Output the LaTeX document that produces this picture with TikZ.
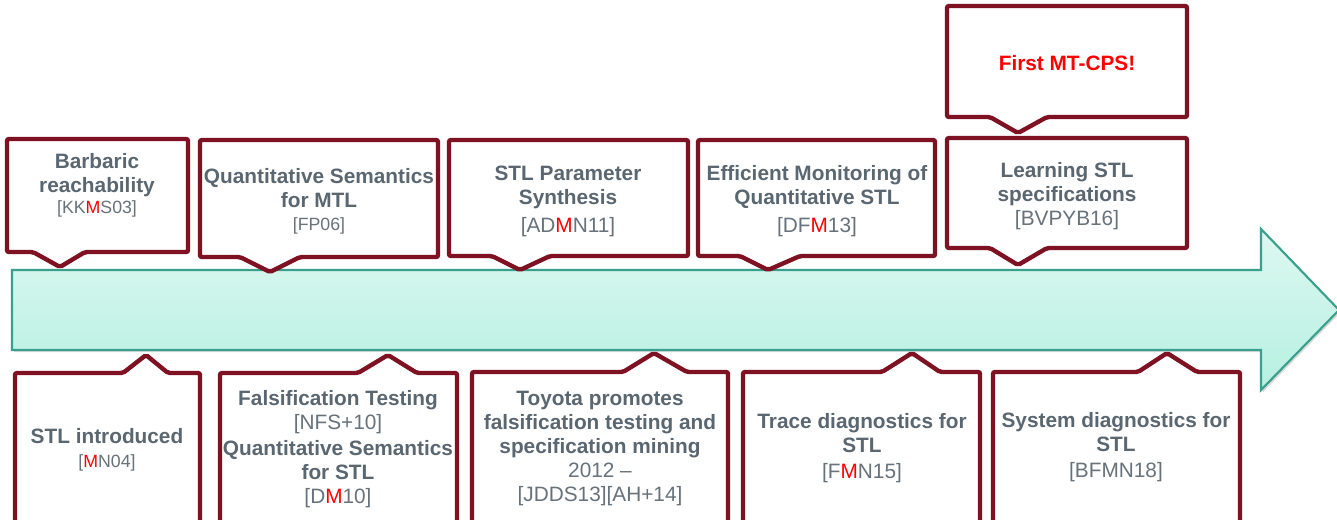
\documentclass[tikz,border=0pt]{standalone}
\usepackage{fontspec}
\setmainfont{Liberation Sans}
\usetikzlibrary{shadows}

\definecolor{frame}{HTML}{7E1222}
\definecolor{ttl}{HTML}{5B6770}
\definecolor{refc}{HTML}{67727A}
\definecolor{hot}{HTML}{FF0000}
\definecolor{arrowline}{HTML}{3A9F8D}
\definecolor{mintA}{HTML}{DDF8F1}
\definecolor{mintB}{HTML}{B6F0E0}

% citation styles: small and regular size
\newcommand{\reff}{\fontsize{13.3}{18}\selectfont\mdseries\color{refc}}
\newcommand{\refl}{\fontsize{15.6}{18}\selectfont\mdseries\color{refc}}
\newcommand{\hm}{\textcolor{hot}{M}}

% callout box: left, top, right, bottom, pointer base left, tip x, tip y, pointer base right
\newcommand{\calloutdown}[8]{%
  \draw[callout] (#1,#2) -- (#3,#2) -- (#3,#4) -- (#8,#4) -- (#6,#7) -- (#5,#4) -- (#1,#4) -- cycle;}
\newcommand{\calloutup}[8]{%
  \draw[callout] (#1,#4) -- (#1,#2) -- (#5,#2) -- (#6,#7) -- (#8,#2) -- (#3,#2) -- (#3,#4);}

\begin{document}
\begin{tikzpicture}[x=0.75pt,y=-0.75pt,
  callout/.style={draw=frame,line width=3.3pt,fill=white,line join=miter,rounded corners=1.5pt},
  txt/.style={align=center,inner sep=0pt,font=\fontsize{15.6}{18}\selectfont\bfseries\color{ttl}},
  timeline/.style={draw=arrowline,line width=1.6pt,top color=mintA,bottom color=mintB,
    drop shadow={opacity=0.3,shadow xshift=1.5pt,shadow yshift=-1.5pt}}]
\useasboundingbox (0,0) rectangle (1337,519);
\clip (0,0) rectangle (1337,519);

% time axis
\path[timeline] (12,270) -- (1261,270) -- (1261,229) -- (1339,310) -- (1261,390) -- (1261,350) -- (12,350) -- cycle;

% events above the axis
\calloutdown{7}{139}{188}{252}{33}{60}{267}{85}
\calloutdown{200}{140}{438}{257}{240}{270}{272}{300}
\calloutdown{449}{140}{688}{256}{492}{520}{270}{550}
\calloutdown{698}{140}{935}{256}{740}{768}{270}{800}
\calloutdown{947}{138}{1187}{248}{990}{1018}{265}{1047}
\calloutdown{947}{6}{1187}{117}{990}{1018}{133}{1047}

% events below the axis
\calloutup{15}{373}{200}{540}{123}{146}{355}{168}
\calloutup{220}{373}{457}{540}{358}{388}{355}{417}
\calloutup{472}{372}{728}{540}{623}{654}{353}{687}
\calloutup{743}{372}{980}{540}{882}{912}{353}{940}
\calloutup{993}{372}{1240}{540}{1138}{1167}{353}{1197}

% labels
\node[txt] (barbaric) at (97,185) {Barbaric\\reachability\\[-2pt]{\reff[KK\hm S03]}};
\node[txt] (qsmtl) at (319,201) {Quantitative Semantics\\for MTL\\[-1pt]{\reff[FP06]}};
\node[txt] (param) at (568,201) {STL Parameter\\Synthesis\\[3pt]{\refl[AD\hm N11]}};
\node[txt] (effmon) at (817,201) {Efficient Monitoring of\\Quantitative STL\\[3pt]{\refl[DF\hm 13]}};
\node[txt] (learn) at (1067,196) {Learning STL\\specifications\\{\refl[BVPYB16]}};
\node[txt,text=hot] (mtcps) at (1067,63) {First MT-CPS!};

\node[txt] (stlintro) at (107,450) {STL introduced\\{\reff[\hm N04]}};
\node[txt] (falsif) at (338,449) {Falsification Testing\\{\refl[NFS+10]}\\[2pt]Quantitative Semantics\\for STL\\{\refl[D\hm 10]}};
\node[txt] (toyota) at (600,448) {Toyota promotes\\falsification testing and\\specification mining\\{\refl 2012 --}\\{\refl[JDDS13][AH+14]}};
\node[txt] (trace) at (862,448) {Trace diagnostics for\\STL\\[2pt]{\refl[F\hm N15]}};
\node[txt] (system) at (1116,447) {System diagnostics for\\STL\\[2pt]{\refl[BFMN18]}};
\end{tikzpicture}
\end{document}
